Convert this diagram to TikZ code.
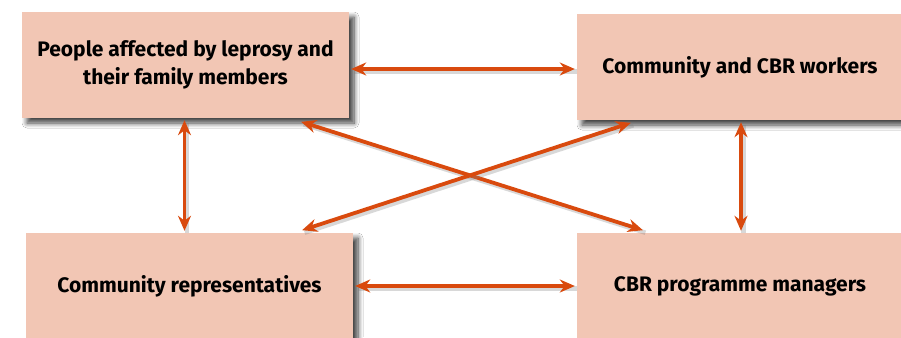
\documentclass[tikz,border=0pt]{standalone}
\usepackage{fontspec}
\setmainfont{Fira Sans}
\usetikzlibrary{arrows.meta,shadows.blur,calc}
\definecolor{boxfill}{HTML}{F2C6B4}
\definecolor{arrowc}{HTML}{D94A0E}
\tikzset{
  box/.style={rectangle, fill=boxfill, minimum width=327pt, minimum height=106pt,
    inner sep=0pt, align=center, font=\fontsize{21}{28.5}\selectfont\bfseries,
    blur shadow={shadow xshift=5pt, shadow yshift=-5pt, shadow blur steps=8, shadow blur radius=5pt, shadow opacity=75}},
  link/.style={draw=arrowc, line width=3.8pt,
    {Stealth[length=15pt,width=13pt]}-{Stealth[length=15pt,width=13pt]},
    shorten <=2pt, shorten >=2pt,
    preaction={draw=black!50, opacity=0.3, line width=4.5pt, transform canvas={shift={(2.5pt,-2.5pt)}}, -}}
}
\begin{document}
\begin{tikzpicture}[x=1pt,y=-1pt]
\useasboundingbox (0,0) rectangle (901,337);
\clip (0,0) rectangle (901,337);
\fill[white] (0,0) rectangle (901,337);
\node[box] (A) at (185.5,65) {People affected by leprosy and\\their family members};
\node[box, minimum width=326pt] (B) at (740,67) {Community and CBR workers};
\node[box] (C) at (189.5,286) {Community representatives};
\node[box, minimum width=326pt] (D) at (740,286) {CBR programme managers};
\draw[link] ([yshift=-4pt]A.east) -- ([yshift=-2pt]B.west);
\draw[link] ([xshift=-1pt]A.south) -- ([xshift=-5pt]C.north);
\draw[link] ([xshift=1pt]B.south) -- ([xshift=1pt]D.north);
\draw[link] (C.east) -- (D.west);
\draw[link] ($(A.south east)+(-50,3)$) -- ($(D.north west)+(68,-2)$);
\draw[link] ($(C.north east)+(-53,-2)$) -- ($(B.south west)+(56,2)$);
\end{tikzpicture}
\end{document}
